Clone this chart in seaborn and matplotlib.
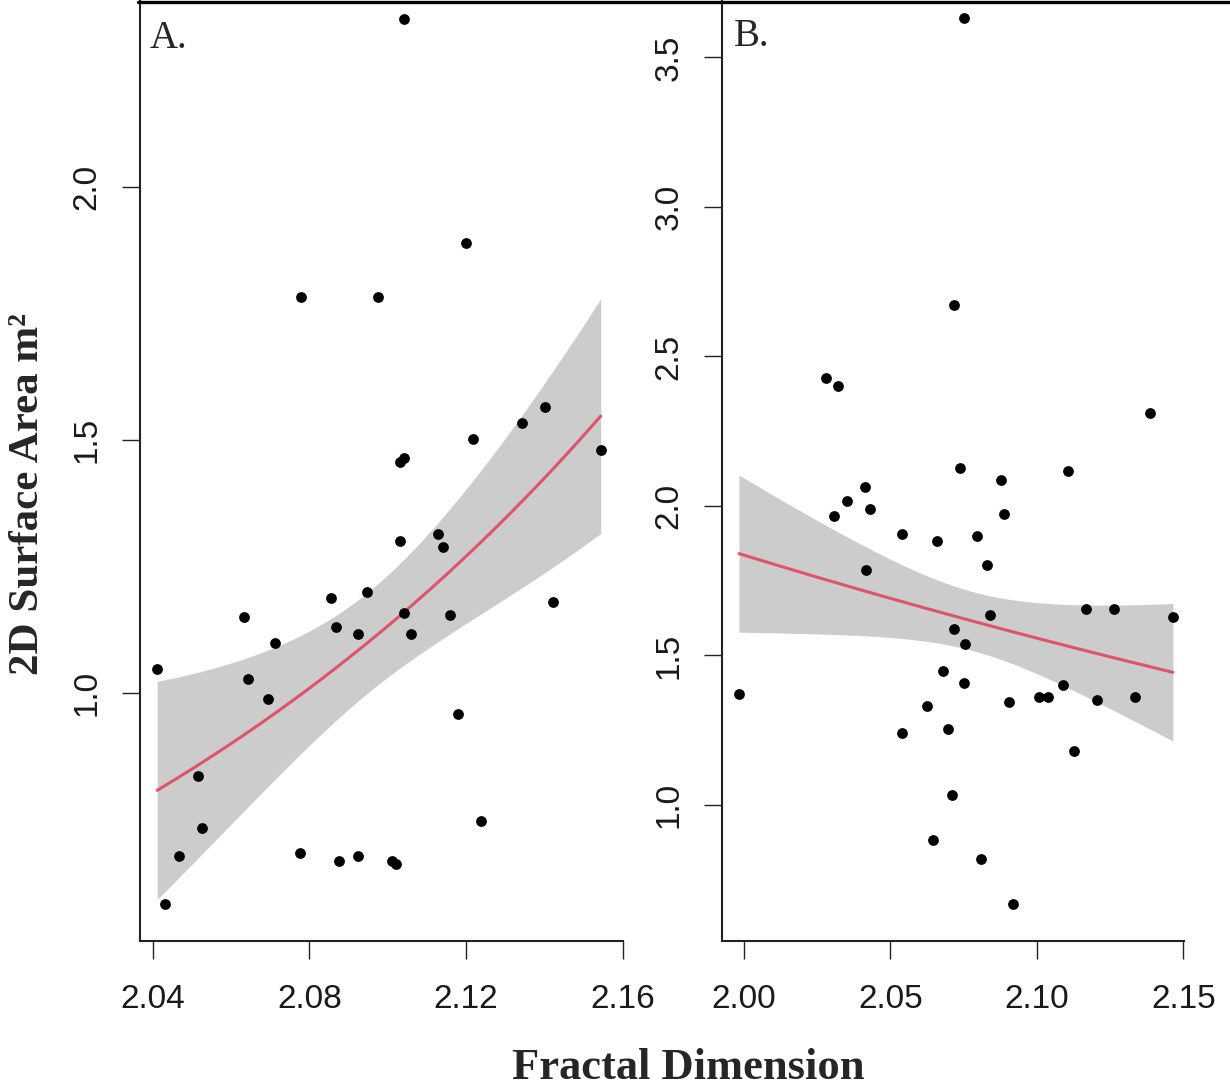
import numpy as np
import matplotlib
matplotlib.use('Agg')
import matplotlib.pyplot as plt
import seaborn as sns
from matplotlib.lines import Line2D

# Panel A data: fractal dimension vs 2D surface area
fd_a = [2.1041, 2.1199, 2.0778, 2.0975, 2.1401, 2.1343, 2.1219, 2.1544, 2.1031, 2.1041,
        2.1031, 2.1129, 2.1140, 2.0856, 2.0946, 2.0633, 2.0867, 2.0925, 2.1041, 2.1060,
        2.1159, 2.1421, 2.0713, 2.0411, 2.0643, 2.0694, 2.1179, 2.0515, 2.0525, 2.1237,
        2.0466, 2.0777, 2.0876, 2.0925, 2.1010, 2.1021, 2.0431]
area_a = [2.333, 1.889, 1.783, 1.783, 1.565, 1.534, 1.503, 1.480, 1.457, 1.464,
          1.300, 1.315, 1.288, 1.188, 1.200, 1.150, 1.131, 1.116, 1.158, 1.116,
          1.154, 1.180, 1.100, 1.047, 1.028, 0.989, 0.958, 0.837, 0.733, 0.748,
          0.678, 0.683, 0.668, 0.679, 0.668, 0.663, 0.583]

# Panel B data
fd_b = [2.0750, 2.0717, 2.0281, 2.0321, 2.1387, 2.0737, 2.0879, 2.1107,
        2.0412, 2.0353, 2.0431, 2.0307, 2.0886, 2.0541, 2.0658, 2.0795, 2.0828, 2.0418,
        2.0841, 2.1166, 2.1262, 2.1464, 2.0717, 2.0755, 2.0678, 2.0750, 1.9983, 2.1088,
        2.1008, 2.1037, 2.1334, 2.0905, 2.1205, 2.0626, 2.0541, 2.0697, 2.1127, 2.0711,
        2.0645, 2.0808, 2.0918]
area_b = [3.631, 2.672, 2.427, 2.401, 2.310, 2.128, 2.087, 2.116,
          2.064, 2.018, 1.991, 1.967, 1.972, 1.907, 1.882, 1.901, 1.804, 1.785,
          1.635, 1.654, 1.654, 1.629, 1.590, 1.538, 1.447, 1.408, 1.370, 1.402,
          1.362, 1.362, 1.362, 1.343, 1.350, 1.330, 1.240, 1.253, 1.182, 1.032,
          0.883, 0.818, 0.669]

ticks_a_x = [2.04, 2.08, 2.12, 2.16]
ticks_a_y = [1.0, 1.5, 2.0]
ticks_b_x = [2.00, 2.05, 2.10, 2.15]
ticks_b_y = [1.0, 1.5, 2.0, 2.5, 3.0, 3.5]

RED = '#DF536B'
BAND = '#CCCCCC'


def fit_band(x, y, z, n=200):
    x = np.asarray(x, float)
    y = np.asarray(y, float)
    xm = x.mean()
    X = np.column_stack([np.ones_like(x), x - xm])
    grid = np.linspace(x.min(), x.max(), n)
    G = np.column_stack([np.ones_like(grid), grid - xm])
    XtXi = np.linalg.inv(X.T @ X)
    # curve: linear model on log(area), back-transformed
    b_log = XtXi @ X.T @ np.log(y)
    fit = np.exp(G @ b_log)
    # band: standard error of the straight-line fit on the raw scale
    b_lin = XtXi @ X.T @ y
    r = y - X @ b_lin
    s2 = r @ r / (len(y) - 2)
    se = np.sqrt(s2 * np.einsum('ij,jk,ik->i', G, XtXi, G))
    return grid, fit, fit - z * se, fit + z * se


sns.set_style('ticks')
plt.rcParams['font.family'] = ['Liberation Sans', 'DejaVu Sans']

fig = plt.figure(figsize=(12.3, 10.9), dpi=100)
ax_a = fig.add_axes([140 / 1230, 149 / 1090, 483 / 1230, 941 / 1090])
ax_b = fig.add_axes([722 / 1230, 149 / 1090, 462 / 1230, 941 / 1090])

panels = [
    (ax_a, fd_a, area_a, 1.67, (2.0367, 2.1601), (0.51, 2.37), ticks_a_x, ticks_a_y),
    (ax_b, fd_b, area_b, 1.16, (1.9925, 2.1502), (0.545, 3.692), ticks_b_x, ticks_b_y),
]

for ax, xs, ys, z, xl, yl, tx, ty in panels:
    grid, fit, lo, hi = fit_band(xs, ys, z)
    ax.fill_between(grid, lo, hi, color=BAND, linewidth=0, zorder=1)
    sns.lineplot(x=grid, y=fit, ax=ax, color=RED, linewidth=2.2, zorder=2)
    sns.scatterplot(x=xs, y=ys, ax=ax, color='black', s=60, linewidth=0, zorder=3)
    ax.set_xlim(*xl)
    ax.set_ylim(*yl)
    ax.set_xticks(tx)
    ax.set_xticklabels(['%.2f' % v for v in tx])
    ax.set_yticks(ty)
    ax.set_yticklabels(['%.1f' % v for v in ty])
    ax.set_xlabel('')
    ax.set_ylabel('')
    for side in ['top', 'right']:
        ax.spines[side].set_visible(False)
    for side in ['left', 'bottom']:
        ax.spines[side].set_linewidth(1.5)
        ax.spines[side].set_color('#222222')
    ax.tick_params(axis='both', direction='out', length=13, width=1.0,
                   color='#222222', labelsize=24, labelcolor='#1a1a1a')
    ax.tick_params(axis='x', pad=18)
    ax.tick_params(axis='y', pad=14, labelrotation=90)
    for lab in ax.get_yticklabels():
        lab.set_va('center')

# panel letters
fig.text(150 / 1230, 1 - 48 / 1090, 'A.', family='Liberation Serif', fontsize=28,
         va='baseline', ha='left')
fig.text(734 / 1230, 1 - 46 / 1090, 'B.', family='Liberation Serif', fontsize=28,
         va='baseline', ha='left')

# axis titles
fig.text(688 / 1230, 1 - 1068 / 1090, 'Fractal Dimension', family='Liberation Serif',
         fontsize=32, fontweight='bold', ha='center', va='center')
fig.text(28 / 1230, 1 - 494 / 1090, '2D Surface Area m\u00b2', family='Liberation Serif',
         fontsize=31, fontweight='bold', ha='center', va='center', rotation=90)

# frame line across the top
fig.add_artist(Line2D([138 / 1230, 1.0], [1 - 2 / 1090, 1 - 2 / 1090],
                      transform=fig.transFigure, color='black', linewidth=2.4))

fig.savefig('out.png', dpi=100, facecolor='white')
